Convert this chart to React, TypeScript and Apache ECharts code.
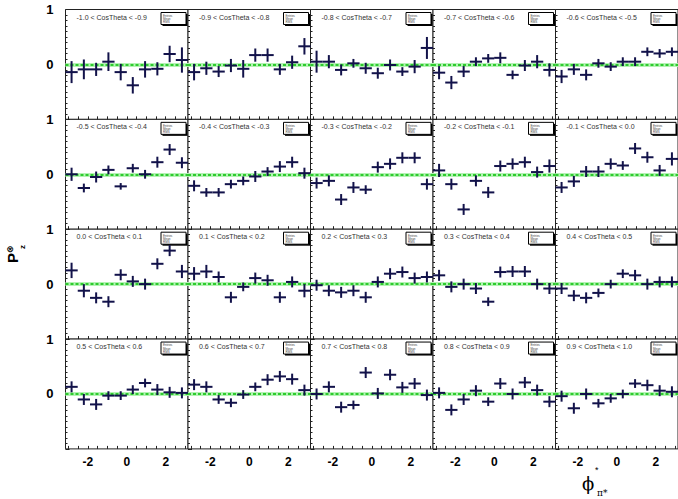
import React, { useEffect, useRef } from "react";
import * as echarts from "echarts";

// bin centres of phi*_pi* (rad)
const PHI = [-2.83, -2.2, -1.57, -0.94, -0.31, 0.31, 0.94, 1.57, 2.2, 2.83];

const TITLES = [
  "-1.0 < CosTheta < -0.9", "-0.9 < CosTheta < -0.8", "-0.8 < CosTheta < -0.7", "-0.7 < CosTheta < -0.6", "-0.6 < CosTheta < -0.5",
  "-0.5 < CosTheta < -0.4", "-0.4 < CosTheta < -0.3", "-0.3 < CosTheta < -0.2", "-0.2 < CosTheta < -0.1", "-0.1 < CosTheta < 0.0",
  "0.0 < CosTheta < 0.1", "0.1 < CosTheta < 0.2", "0.2 < CosTheta < 0.3", "0.3 < CosTheta < 0.4", "0.4 < CosTheta < 0.5",
  "0.5 < CosTheta < 0.6", "0.6 < CosTheta < 0.7", "0.7 < CosTheta < 0.8", "0.8 < CosTheta < 0.9", "0.9 < CosTheta < 1.0",
];

const PZ_00 = [-0.14, -0.09, -0.09, 0.05, -0.14, -0.38, -0.09, -0.08, 0.19, 0.08];
const PZ_01 = [-0.14, -0.07, -0.13, -0.02, -0.08, 0.17, 0.17, -0.09, 0.04, 0.33];
const PZ_02 = [0.05, 0.05, -0.1, 0.02, -0.07, -0.16, -0.01, -0.13, -0.04, 0.3];
const PZ_03 = [-0.15, -0.33, -0.13, 0.05, 0.11, 0.12, -0.19, -0.02, 0.05, -0.1];
const PZ_04 = [-0.22, -0.09, -0.19, 0.02, -0.04, 0.05, 0.05, 0.23, 0.2, 0.23];
const PZ_05 = [0.0, -0.25, -0.05, 0.08, -0.22, 0.11, 0.0, 0.22, 0.45, 0.21];
const PZ_06 = [-0.21, -0.33, -0.33, -0.18, -0.12, -0.04, 0.05, 0.14, 0.22, 0.02];
const PZ_07 = [-0.16, -0.12, -0.46, -0.24, -0.28, 0.13, 0.19, 0.3, 0.3, -0.18];
const PZ_08 = [0.07, -0.18, -0.64, -0.12, -0.33, 0.15, 0.19, 0.22, 0.04, 0.15];
const PZ_09 = [-0.24, -0.13, 0.05, 0.05, 0.19, 0.16, 0.47, 0.31, 0.07, 0.28];
const PZ_10 = [0.25, -0.12, -0.25, -0.32, 0.17, 0.05, 0.0, 0.37, 0.61, 0.23];
const PZ_11 = [0.19, 0.23, 0.13, -0.24, -0.05, 0.11, 0.07, -0.24, 0.04, -0.12];
const PZ_12 = [-0.02, -0.12, -0.15, -0.12, -0.24, 0.04, 0.19, 0.22, 0.11, 0.13];
const PZ_13 = [0.16, -0.05, 0.0, -0.08, -0.32, 0.22, 0.23, 0.23, 0.0, -0.08];
const PZ_14 = [-0.08, -0.21, -0.25, -0.16, 0.0, 0.19, 0.16, 0.0, 0.04, 0.04];
const PZ_15 = [0.13, -0.1, -0.19, -0.03, -0.03, 0.08, 0.2, 0.08, 0.03, 0.02];
const PZ_16 = [0.17, 0.13, -0.1, -0.16, -0.01, 0.13, 0.26, 0.32, 0.27, 0.07];
const PZ_17 = [0.0, 0.13, -0.24, -0.2, 0.39, 0.01, 0.35, 0.12, 0.19, -0.02];
const PZ_18 = [0.02, -0.29, -0.1, 0.06, -0.14, 0.19, 0.0, 0.21, 0.07, -0.14];
const PZ_19 = [-0.04, -0.26, 0.0, -0.17, -0.08, 0.0, 0.19, 0.16, 0.06, 0.04];

const ERR_00 = [0.2, 0.18, 0.12, 0.17, 0.15, 0.15, 0.15, 0.12, 0.15, 0.23];
const ERR_01 = [0.15, 0.12, 0.1, 0.12, 0.16, 0.12, 0.12, 0.1, 0.12, 0.15];
const ERR_02 = [0.2, 0.12, 0.1, 0.08, 0.1, 0.1, 0.1, 0.08, 0.12, 0.2];
const ERR_03 = [0.12, 0.12, 0.1, 0.08, 0.08, 0.1, 0.08, 0.1, 0.12, 0.12];
const ERR_04 = [0.12, 0.1, 0.1, 0.08, 0.08, 0.08, 0.08, 0.08, 0.08, 0.08];
const ERR_05 = [0.12, 0.08, 0.1, 0.08, 0.06, 0.08, 0.08, 0.1, 0.1, 0.1];
const ERR_06 = [0.1, 0.08, 0.08, 0.08, 0.08, 0.1, 0.08, 0.1, 0.1, 0.1];
const ERR_07 = [0.1, 0.1, 0.1, 0.1, 0.08, 0.1, 0.1, 0.1, 0.1, 0.1];
const ERR_08 = [0.12, 0.1, 0.1, 0.1, 0.1, 0.1, 0.1, 0.1, 0.1, 0.12];
const ERR_09 = [0.1, 0.1, 0.1, 0.1, 0.1, 0.08, 0.1, 0.1, 0.1, 0.12];
const ERR_10 = [0.14, 0.12, 0.1, 0.1, 0.1, 0.1, 0.1, 0.1, 0.1, 0.12];
const ERR_11 = [0.12, 0.12, 0.1, 0.1, 0.08, 0.1, 0.1, 0.1, 0.1, 0.12];
const ERR_12 = [0.1, 0.1, 0.1, 0.1, 0.1, 0.1, 0.1, 0.1, 0.1, 0.1];
const ERR_13 = [0.1, 0.1, 0.1, 0.1, 0.08, 0.1, 0.1, 0.1, 0.1, 0.1];
const ERR_14 = [0.1, 0.1, 0.1, 0.08, 0.08, 0.08, 0.1, 0.1, 0.1, 0.1];
const ERR_15 = [0.1, 0.1, 0.1, 0.08, 0.08, 0.08, 0.08, 0.1, 0.1, 0.1];
const ERR_16 = [0.1, 0.1, 0.08, 0.08, 0.08, 0.08, 0.1, 0.1, 0.1, 0.1];
const ERR_17 = [0.1, 0.1, 0.1, 0.08, 0.1, 0.1, 0.1, 0.1, 0.1, 0.1];
const ERR_18 = [0.1, 0.1, 0.1, 0.1, 0.08, 0.1, 0.1, 0.1, 0.1, 0.1];
const ERR_19 = [0.1, 0.1, 0.1, 0.08, 0.08, 0.08, 0.08, 0.1, 0.1, 0.1];

const PZ = [PZ_00, PZ_01, PZ_02, PZ_03, PZ_04, PZ_05, PZ_06, PZ_07, PZ_08, PZ_09,
  PZ_10, PZ_11, PZ_12, PZ_13, PZ_14, PZ_15, PZ_16, PZ_17, PZ_18, PZ_19];
const ERR = [ERR_00, ERR_01, ERR_02, ERR_03, ERR_04, ERR_05, ERR_06, ERR_07, ERR_08, ERR_09,
  ERR_10, ERR_11, ERR_12, ERR_13, ERR_14, ERR_15, ERR_16, ERR_17, ERR_18, ERR_19];

const X_TICKS = [-3, -2.5, -2, -1.5, -1, -0.5, 0, 0.5, 1, 1.5, 2, 2.5, 3];
const X_LABELS = [-2, 0, 2];
const HALF_BIN = Math.PI / 10;

const NCOL = 5;
const NROW = 4;
const GL = 65.5;
const GT = 9.5;
const GW = 122.5;
const GH = 109.85;
const FONT = "Liberation Sans, Arial, sans-serif";
const CROSS = "#12124a";

export default function App() {
  const ref = useRef<HTMLDivElement>(null);
  useEffect(() => {
    document.body.style.margin = "0";
    const chart = echarts.init(ref.current!, null, { renderer: "svg" });
    const grid: any[] = [];
    const xAxis: any[] = [];
    const yAxis: any[] = [];
    const series: any[] = [];
    const graphic: any[] = [];
    for (let i = 0; i < NROW * NCOL; i++) {
      const r = Math.floor(i / NCOL);
      const c = i % NCOL;
      const left = GL + c * GW;
      const top = GT + r * GH;
      grid.push({ left, top, width: GW, height: GH, show: true, borderColor: "#222", borderWidth: 1, backgroundColor: "#fff" });
      xAxis.push({
        type: "value", gridIndex: i, min: -Math.PI, max: Math.PI, position: "bottom",
        axisLine: { show: false, onZero: false }, splitLine: { show: false },
        axisTick: { show: true, inside: true, length: 3, customValues: X_TICKS, lineStyle: { color: "#222", width: 1 } },
        axisLabel: {
          show: r === NROW - 1, customValues: X_LABELS, margin: 7,
          fontFamily: FONT, fontWeight: "bold", fontSize: 12, color: "#000",
        },
      });
      yAxis.push({
        type: "value", gridIndex: i, min: -1, max: 1, interval: 1, position: "left",
        axisLine: { show: false, onZero: false }, splitLine: { show: false },
        axisTick: { show: true, inside: true, length: 4, lineStyle: { color: "#222" } },
        minorTick: { show: true, splitNumber: 10, length: 2, lineStyle: { color: "#222" } },
        axisLabel: {
          show: c === 0, margin: 12, fontFamily: FONT, fontWeight: "bold", fontSize: 13, color: "#000",
          formatter: (v: number) => (v === -1 ? "" : String(v)),
        },
      });
      series.push({
        type: "custom", xAxisIndex: i, yAxisIndex: i,
        data: PHI.map((x, k) => [x, PZ[i][k], ERR[i][k]]),
        renderItem: (_p: any, api: any) => {
          const x = api.value(0), y = api.value(1), e = api.value(2);
          const a = api.coord([x - HALF_BIN, y]);
          const b = api.coord([x + HALF_BIN, y]);
          const u = api.coord([x, y + e]);
          const d = api.coord([x, y - e]);
          return {
            type: "group",
            children: [
              { type: "line", shape: { x1: a[0], y1: a[1], x2: b[0], y2: b[1] }, style: { stroke: CROSS, lineWidth: 2 } },
              { type: "line", shape: { x1: u[0], y1: u[1], x2: d[0], y2: d[1] }, style: { stroke: CROSS, lineWidth: 2 } },
            ],
          };
        },
        markLine: {
          silent: true, symbol: "none", label: { show: false }, z: 1,
          data: [
            { yAxis: 0, lineStyle: { color: "#b4f2b4", width: 4, type: "solid" } },
            { yAxis: 0, lineStyle: { color: "#2ecc2e", width: 2, type: [3, 2] } },
          ],
        },
      });
      graphic.push({
        type: "text", left: left + 11, top: top + 4,
        style: { text: TITLES[i], fontSize: 7, fontFamily: FONT, fill: "#333" },
      });
      const bx = left + GW - 27;
      const by = top + 3;
      graphic.push({ type: "rect", shape: { x: bx + 1.5, y: by + 1.5, width: 25, height: 12 }, style: { fill: "#000" } });
      graphic.push({ type: "rect", shape: { x: bx, y: by, width: 25, height: 12 }, style: { fill: "#fff", stroke: "#000", lineWidth: 1 } });
      ["Entries", "Mean", "RMS"].forEach((t, k) => {
        graphic.push({ type: "text", x: bx + 2, y: by + 1.5 + k * 3.3, style: { text: t, fontSize: 3, fontFamily: FONT, fill: "#444" } });
      });
    }
    // y-axis title  P_z^(x), rotated to read upwards
    graphic.push({
      type: "group", x: 12, y: 263, rotation: Math.PI / 2,
      children: [
        { type: "text", x: 0, y: 0, style: { text: "P", fontSize: 15, fontWeight: "bold", fontFamily: FONT, fill: "#000", textVerticalAlign: "middle" } },
        { type: "text", x: 10, y: -2, style: { text: "⊗", fontSize: 9, fontWeight: "bold", fontFamily: "DejaVu Sans", fill: "#000", textVerticalAlign: "middle" } },
        { type: "text", x: 14, y: 10, style: { text: "z", fontSize: 8, fontWeight: "bold", fontFamily: FONT, fill: "#000", textVerticalAlign: "middle" } },
      ],
    });
    // x-axis title phi*_pi*
    graphic.push({ type: "text", x: 582, y: 474, style: { text: "ϕ", fontSize: 18, fontFamily: "DejaVu Serif", fill: "#000" } });
    graphic.push({ type: "text", x: 595, y: 465, style: { text: "*", fontSize: 9, fontFamily: FONT, fill: "#000" } });
    graphic.push({ type: "text", x: 597, y: 488, style: { text: "π*", fontSize: 9, fontFamily: "DejaVu Serif", fill: "#000" } });

    chart.setOption({ animation: false, backgroundColor: "#fff", grid, xAxis, yAxis, series, graphic });
    return () => chart.dispose();
  }, []);
  return <div ref={ref} style={{ width: 678, height: 499 }} />;
}
